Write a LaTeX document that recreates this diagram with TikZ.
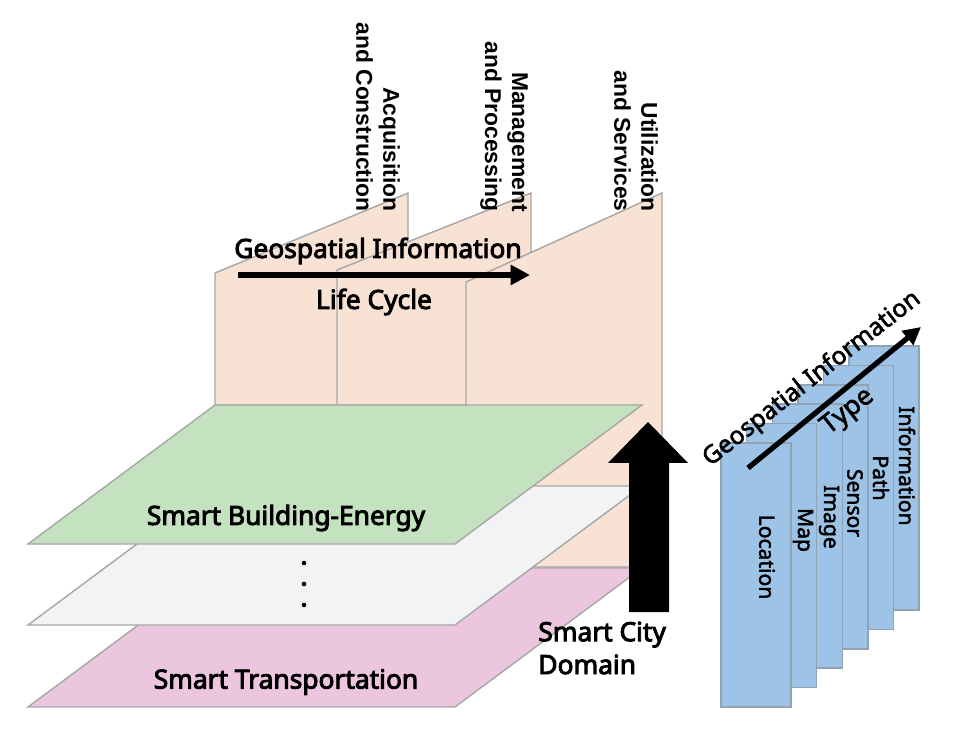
\documentclass[tikz,border=0pt]{standalone}
\usepackage{fontspec}
\setmainfont{Noto Sans}
\newfontfamily\boldsans{Noto Sans}[FakeBold=3.5]
\newfontfamily\cardfont{Noto Sans}[FakeBold=2.2]
\newfontfamily\arialfont{Liberation Sans}
\usetikzlibrary{arrows.meta}

\definecolor{peach}{HTML}{F8E2D4}
\definecolor{edgegray}{HTML}{A6A6A6}
\definecolor{greenlayer}{HTML}{C5E2C0}
\definecolor{greylayer}{HTML}{F2F3F4}
\definecolor{pinklayer}{HTML}{ECC6DF}
\definecolor{cardblue}{HTML}{9DC3E6}
\definecolor{cardedge}{HTML}{8FA3B5}

\tikzset{
  panel/.style={fill=peach, draw=edgegray, line width=0.8pt},
  layer/.style={draw=edgegray, line width=0.8pt},
  card/.style={fill=cardblue, draw=cardedge, line width=0.8pt},
  phase/.style={font=\arialfont\fontsize{13}{15.3}\selectfont\bfseries, rotate=-90, align=right, anchor=east, inner sep=0pt},
  bigtext/.style={font=\boldsans\fontsize{15}{18.7}\selectfont, inner sep=0pt},
  cardtext/.style={font=\cardfont\fontsize{12}{14}\selectfont, inner sep=0pt},
}

\begin{document}
\begin{tikzpicture}[x=0.02cm, y=-0.02cm]
\useasboundingbox (0,0) rectangle (953,739);

% life cycle panels
\filldraw[panel] (215,405) -- (215,273) -- (408,193) -- (408,405) -- cycle;
\filldraw[panel] (337,405) -- (337,270) -- (531,193) -- (531,405) -- cycle;
\filldraw[panel] (466,567) -- (466,282) -- (662,193) -- (662,567) -- cycle;
\node[phase] (acq) at (378,212) {Acquisition\\and Construction};
\node[phase] (mgmt) at (504,212) {Management\\and Processing};
\node[phase] (util) at (636,212) {Utilization\\and Services};

\coordinate (lcstart) at (238,275);
\coordinate (lcend) at (530,275);
\draw[line width=3.5pt, -{Triangle[length=11pt,width=11pt]}] (lcstart) -- (lcend);
\node[bigtext] (gilabel) at (378,251) {Geospatial Information};
\node[bigtext] (lclabel) at (374,302) {Life Cycle};

% smart city layers
\filldraw[layer, fill=pinklayer] (28,707) -- (215,568) -- (642,568) -- (455,707) -- cycle;
\filldraw[layer, fill=greylayer] (28,625) -- (215,486) -- (642,486) -- (455,625) -- cycle;
\filldraw[layer, fill=greenlayer] (28,544) -- (215,405) -- (642,405) -- (455,544) -- cycle;
\node[bigtext] (sbe) at (286,518) {Smart Building-Energy};
\node[bigtext] (stp) at (286,682) {Smart Transportation};
\foreach \y in {563,584,605}
  \fill (304,\y) circle (1.3pt);

% domain arrow
\fill (629,612) -- (629,463) -- (608,463) -- (648,422) -- (688,463) -- (669,463) -- (669,612) -- cycle;
\node[bigtext, align=left, anchor=west] (scd) at (538,648) {Smart City\\Domain};

% type cards
\foreach \i/\name/\tx/\ty in {5/Information/907/466, 4/Path/881/478, 3/Sensor/855/503, 2/Image/829/517, 1/Map/803/530, 0/Location/767/557} {
  \filldraw[card] (721+25.6*\i, 443-19.4*\i) rectangle ++(70,264);
  \node[cardtext, rotate=-90] (card\i) at (\tx,\ty) {\name};
}

\coordinate (tystart) at (748,468);
\coordinate (tyend) at (921,327);
\draw[line width=3pt, -{Triangle[length=10pt,width=10pt]}] (tystart) -- (tyend);
\node[cardtext, font=\cardfont\fontsize{14}{16}\selectfont, rotate=38] (gtlabel) at (812,379) {Geospatial Information};
\node[cardtext, font=\cardfont\fontsize{15}{17}\selectfont, rotate=38] (tylabel) at (848,412) {Type};
\end{tikzpicture}
\end{document}
